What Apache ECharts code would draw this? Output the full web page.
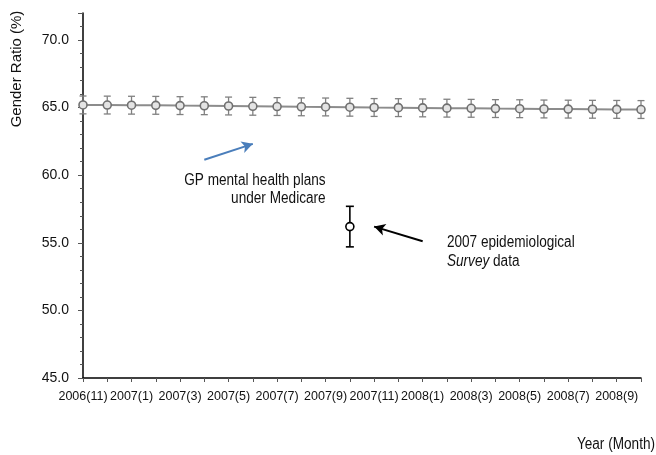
<!DOCTYPE html>
<html>
<head>
<meta charset="utf-8">
<script src="https://cdn.jsdelivr.net/npm/echarts@6/dist/echarts.min.js"></script>
<style>
  html, body { margin: 0; padding: 0; background: #fff; }
  #chart { width: 656px; height: 455px; }
</style>
</head>
<body>
<div id="chart"></div>
<script>
// Monthly categories, Nov 2006 to Oct 2008
const months = [
  '2006(11)', '2006(12)',
  '2007(1)', '2007(2)', '2007(3)', '2007(4)', '2007(5)', '2007(6)',
  '2007(7)', '2007(8)', '2007(9)', '2007(10)', '2007(11)', '2007(12)',
  '2008(1)', '2008(2)', '2008(3)', '2008(4)', '2008(5)', '2008(6)',
  '2008(7)', '2008(8)', '2008(9)', '2008(10)'
];

// Gender ratio (%) among GP mental health plans under Medicare
const planRatio = [
  65.20, 65.19, 65.18, 65.17, 65.15, 65.14, 65.12, 65.10,
  65.08, 65.06, 65.05, 65.03, 65.01, 65.00, 64.98, 64.96,
  64.95, 64.93, 64.92, 64.90, 64.89, 64.88, 64.87, 64.86
];
// Half-width of the confidence interval for each month
const planError = [
  0.66, 0.66, 0.66, 0.66, 0.66, 0.66, 0.66, 0.66,
  0.66, 0.66, 0.66, 0.66, 0.66, 0.66, 0.66, 0.66,
  0.66, 0.66, 0.66, 0.66, 0.66, 0.66, 0.66, 0.66
];

// 2007 epidemiological survey estimate
const surveyMonth = '2007(10)';
const surveyRatio = 56.2;
const surveyError = 1.5;

const yTicks = [45, 50, 55, 60, 65, 70];

const FONT = '"Liberation Sans", Arial, sans-serif';
const NARROW = 0.85; // horizontal squeeze for the condensed annotation lettering

const planBars = planRatio.map((v, i) => [i, v - planError[i], v + planError[i]]);
const surveyIdx = months.indexOf(surveyMonth);
const surveyBars = [[surveyIdx, surveyRatio - surveyError, surveyRatio + surveyError]];

function errorBarRenderer(color, width, cap) {
  return function (params, api) {
    const x = api.value(0);
    const lo = api.coord([x, api.value(1)]);
    const hi = api.coord([x, api.value(2)]);
    const style = { stroke: color, lineWidth: width, fill: null };
    return {
      type: 'group',
      children: [
        { type: 'line', shape: { x1: lo[0], y1: lo[1], x2: hi[0], y2: hi[1] }, style },
        { type: 'line', shape: { x1: lo[0] - cap, y1: lo[1], x2: lo[0] + cap, y2: lo[1] }, style },
        { type: 'line', shape: { x1: hi[0] - cap, y1: hi[1], x2: hi[0] + cap, y2: hi[1] }, style }
      ]
    };
  };
}

const chart = echarts.init(document.getElementById('chart'), null, { renderer: 'canvas' });

const surveyLine = months.map(m => (m === surveyMonth ? surveyRatio : null));

chart.setOption({
  animation: false,
  backgroundColor: '#ffffff',
  grid: { left: 83, right: 15, top: 13, bottom: 77, containLabel: false },
  xAxis: {
    type: 'category',
    data: months,
    boundaryGap: false,
    axisLine: { lineStyle: { color: '#000', width: 1.5 } },
    axisTick: { show: true, interval: 0, length: 4, lineStyle: { color: '#555' } },
    axisLabel: {
      interval: 1, margin: 12, color: '#111', fontFamily: FONT, fontSize: 12.5,
      showMinLabel: true, hideOverlap: false
    },
    splitLine: { show: false }
  },
  yAxis: {
    type: 'value',
    min: 45,
    max: 72,
    interval: 5,
    axisLine: { show: true, lineStyle: { color: '#000', width: 1.5 } },
    axisTick: { show: true, length: 5, lineStyle: { color: '#555' } },
    minorTick: { show: true, splitNumber: 5, length: 3, lineStyle: { color: '#555' } },
    axisLabel: {
      margin: 14, color: '#111', fontFamily: FONT, fontSize: 14,
      formatter: v => (yTicks.indexOf(v) >= 0 ? v.toFixed(1) : '')
    },
    splitLine: { show: false }
  },
  series: [
    {
      type: 'custom',
      name: 'plan-ci',
      renderItem: errorBarRenderer('#808080', 1.3, 3.5),
      data: planBars,
      z: 2
    },
    {
      type: 'line',
      name: 'GP mental health plans',
      data: planRatio,
      symbol: 'circle',
      symbolSize: 8,
      showAllSymbol: true,
      lineStyle: { color: '#8c8c8c', width: 2 },
      itemStyle: { color: '#e4e4e4', borderColor: '#707070', borderWidth: 1.6 },
      z: 3
    },
    {
      type: 'custom',
      name: 'survey-ci',
      renderItem: errorBarRenderer('#000000', 1.6, 4),
      data: surveyBars,
      z: 4
    },
    {
      type: 'line',
      name: '2007 survey',
      data: surveyLine,
      symbol: 'circle',
      symbolSize: 8,
      lineStyle: { width: 0 },
      itemStyle: { color: '#ffffff', borderColor: '#000000', borderWidth: 1.6 },
      z: 5,
      markLine: {
        silent: true,
        symbol: ['none', 'arrow'],
        symbolSize: [9, 11],
        label: { show: false },
        data: [
          [
            { coord: [5.28, 61.15], lineStyle: { color: '#4a7ebb', width: 2, type: 'solid' } },
            { coord: [6.91, 62.32] }
          ],
          [
            { coord: [14.22, 55.11], lineStyle: { color: '#000000', width: 2, type: 'solid' } },
            { coord: [11.72, 56.20] }
          ]
        ]
      }
    }
  ]
});

// Annotation text anchored in data coordinates
const planNote = chart.convertToPixel({ gridIndex: 0 }, [9.52, 58.97]);
const surveyNote = chart.convertToPixel({ gridIndex: 0 }, [14.76, 54.31]);

chart.setOption({
  graphic: [
    {
      type: 'text',
      x: planNote[0], y: planNote[1],
      scaleX: NARROW,
      style: {
        text: 'GP mental health plans\nunder Medicare',
        font: '16px ' + FONT,
        fill: '#111',
        align: 'right',
        verticalAlign: 'middle',
        lineHeight: 18
      }
    },
    {
      type: 'text',
      x: surveyNote[0], y: surveyNote[1],
      scaleX: NARROW,
      style: {
        text: '{n|2007 epidemiological}\n{i|Survey}{n| data}',
        align: 'left',
        verticalAlign: 'middle',
        fill: '#111',
        rich: {
          n: { fontFamily: FONT, fontSize: 16, lineHeight: 19, fill: '#111' },
          i: { fontFamily: FONT, fontSize: 16, fontStyle: 'italic', lineHeight: 19, fill: '#111' }
        }
      }
    },
    {
      type: 'text',
      x: 17, y: 69,
      rotation: Math.PI / 2,
      style: {
        text: 'Gender Ratio (%)',
        font: '15px ' + FONT,
        fill: '#111',
        align: 'center',
        verticalAlign: 'middle'
      }
    },
    {
      type: 'text',
      x: 655, y: 445,
      scaleX: NARROW,
      style: {
        text: 'Year (Month)',
        font: '16px ' + FONT,
        fill: '#111',
        align: 'right',
        verticalAlign: 'middle'
      }
    }
  ]
});
</script>
</body>
</html>
